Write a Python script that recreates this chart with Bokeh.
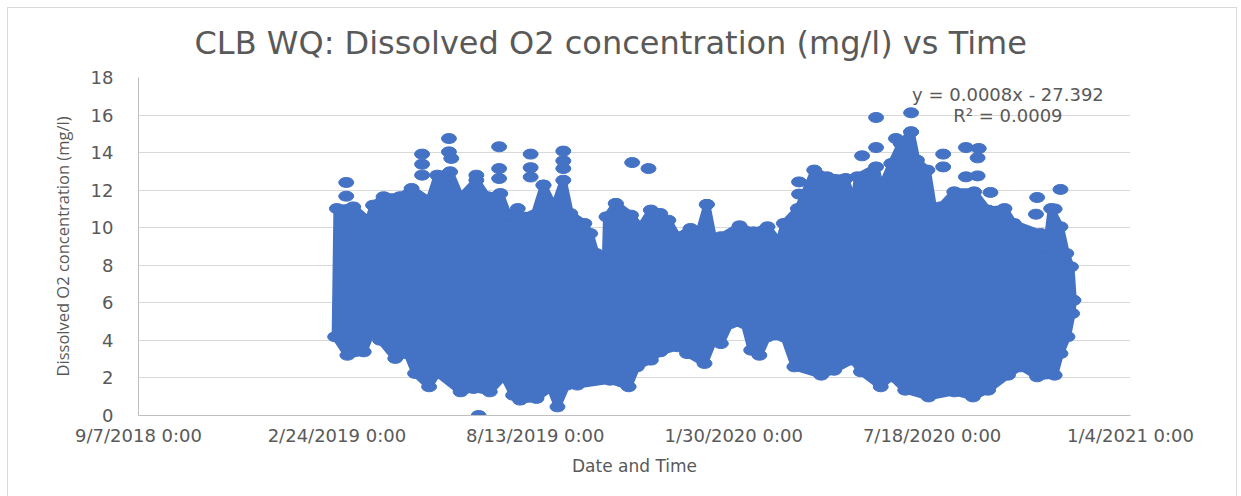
from bokeh.plotting import figure
from bokeh.embed import file_html
from bokeh.resources import INLINE
from bokeh.models import FixedTicker, Range1d
from bokeh.core.properties import value

title_text = "CLB WQ: Dissolved O2 concentration (mg/l) vs Time"
x_title = "Date and Time"
y_title = "Dissolved O2 concentration (mg/l)"
tick_serials = [43350, 43520, 43690, 43860, 44030, 44200]
tick_labels = ["9/7/2018 0:00", "2/24/2019 0:00", "8/13/2019 0:00",
               "1/30/2020 0:00", "7/18/2020 0:00", "1/4/2021 0:00"]
y_ticks = [0, 2, 4, 6, 8, 10, 12, 14, 16, 18]
trend_eq = "y = 0.0008x - 27.392"
trend_r2 = "R\u00b2 = 0.0009"

# upper edge of the point cloud
top_x = [43520, 43534, 43547, 43551, 43560, 43574, 43584, 43599, 43606, 43617, 43626, 43639.5, 43649, 43660,
         43667, 43689, 43697, 43706, 43714, 43720, 43732, 43737, 43742, 43750, 43751, 43759, 43772, 43780,
         43789, 43797, 43804, 43812, 43823, 43830, 43837, 43843, 43849, 43865, 43877, 43889, 43899, 43903,
         43915, 43929, 43940, 43956, 43963, 43966, 43982, 43986, 43995, 44003, 44012, 44017, 44026, 44032,
         44037, 44049, 44066, 44078, 44092, 44100, 44123, 44127, 44132, 44140, 44145, 44149, 44151]
top_y = [11.02, 11.11, 10.4, 11.2, 11.65, 11.65, 12.09, 11.47, 12.8, 12.98, 11.65, 12.53, 11.65, 11.82,
         10.67, 10.67, 12.27, 11.11, 12.53, 10.76, 10.23, 9.69, 8.63, 8.27, 10.58, 11.29, 10.67, 10.05,
         10.94, 10.76, 10.4, 9.52, 9.96, 9.69, 11.24, 9.34, 9.52, 10.1, 9.78, 10.05, 9.25, 10.23,
         11.02, 13.07, 12.71, 12.62, 11.29, 12.71, 13.24, 12.09, 13.42, 14.49, 15.11, 13.6, 13.07, 10.76,
         11.11, 11.91, 11.91, 10.94, 11.02, 10.23, 9.69, 8.45, 11.02, 10.05, 8.63, 7.92, 6.14]

# lower edge of the point cloud
low_x = [43518.5, 43529, 43543, 43550, 43557, 43570, 43580, 43587, 43599, 43606, 43626, 43637, 43651, 43663,
         43671, 43677, 43691, 43703, 43709, 43717, 43726, 43754, 43770, 43777, 43789, 43797, 43812, 43820,
         43835, 43843, 43849, 43857, 43869, 43875, 43882, 43889, 43903, 43912, 43935, 43946, 43962, 43969,
         43986, 43995, 44007, 44027, 44049, 44065, 44078, 44095, 44106, 44120, 44135, 44140, 44146, 44150, 44151]
low_y = [4.19, 3.21, 3.39, 4.46, 4.01, 3.04, 3.3, 2.24, 1.53, 2.24, 1.26, 1.44, 1.26, 2.06,
         1.08, 0.82, 0.91, 1.44, 0.46, 1.62, 1.62, 1.88, 1.53, 2.59, 2.95, 3.39, 3.66, 3.3,
         2.77, 4.01, 3.83, 4.9, 4.9, 3.48, 3.21, 4.19, 4.19, 2.59, 2.15, 2.41, 2.95, 2.33,
         1.53, 2.06, 1.35, 0.99, 1.26, 0.99, 1.35, 2.15, 2.59, 2.06, 2.15, 3.3, 4.19, 5.43, 6.14]

# separate readings standing clear of the cloud
out_x = [43528, 43528, 43616, 43616, 43618, 43593, 43593, 43593, 43659, 43659, 43659, 43686, 43686, 43686,
         43714, 43714, 43714, 43773, 43787, 43675, 43641.5, 43759, 43837, 43697, 43639.5,
         43982, 44012, 44012, 43999, 43982, 43970, 44039.5, 44039.5, 44059, 44070, 44069, 44059, 44069,
         44140, 44120, 43916, 43916, 44119, 44135, 44080]
out_y = [12.41, 11.68, 14.75, 14.04, 13.69, 13.92, 13.38, 12.8, 14.31, 13.15, 12.62, 13.92, 13.2, 12.7,
         14.08, 13.56, 13.15, 13.47, 13.15, 11.02, 0.0, 11.29, 11.24, 12.27, 12.8,
         15.87, 16.12, 15.1, 14.75, 14.27, 13.83, 13.92, 13.24, 14.27, 14.22, 13.72, 12.71, 12.76,
         12.04, 11.61, 12.44, 11.79, 10.72, 11.0, 11.88]

BLUE = "#4472c4"
GREY = "#595959"
FONT = "DejaVu Sans"

p = figure(width=1228, height=488, output_backend="svg", toolbar_location=None,
           x_range=Range1d(43350, 44200), y_range=Range1d(0, 18),
           min_border_left=130, min_border_right=106, min_border_top=69, min_border_bottom=81,
           frame_width=992, frame_height=338, outline_line_color=None,
           x_axis_label=x_title, y_axis_label=y_title)
p.styles = {"border-left": "1px solid #d9d9d9", "border-right": "1px solid #d9d9d9",
            "border-top": "1px solid #d9d9d9", "box-sizing": "border-box", "margin": "7px 0 0 7px"}

p.title.text = title_text
p.title.text_font = FONT
p.title.text_font_size = "32px"
p.title.text_font_style = "normal"
p.title.text_color = GREY
p.title.align = "left"
p.title.offset = 56
p.title.standoff = 28
p.title.vertical_align = "top"

p.xaxis.ticker = FixedTicker(ticks=tick_serials)
p.xaxis.major_label_overrides = dict(zip(tick_serials, tick_labels))
p.yaxis.ticker = FixedTicker(ticks=y_ticks)
for ax in (p.xaxis[0], p.yaxis[0]):
    ax.axis_line_color = "#bfbfbf"
    ax.major_tick_line_color = None
    ax.minor_tick_line_color = None
    ax.major_label_text_font = FONT
    ax.major_label_text_font_size = "18px"
    ax.major_label_text_color = GREY
    ax.axis_label_text_font_style = "normal"
    ax.axis_label_text_color = GREY
p.xaxis.major_label_standoff = 3
p.yaxis.major_label_standoff = 19
p.xaxis.axis_label_text_font = FONT
p.xaxis.axis_label_text_font_size = "17px"
p.xaxis.axis_label_standoff = 7
p.yaxis.axis_label_text_font = "Open Sans"
p.yaxis.axis_label_text_font_size = "16.5px"
p.yaxis.axis_label_standoff = 14

p.xgrid.visible = False
p.ygrid.ticker = FixedTicker(ticks=y_ticks)
p.ygrid.grid_line_color = "#d9d9d9"

p.patch(top_x + low_x[::-1], top_y + low_y[::-1], fill_color=BLUE, line_color=BLUE,
        line_width=7, line_join="round")
for xs, ys in ((top_x, top_y), (low_x, low_y), (out_x, out_y)):
    p.ellipse(xs, ys, width=15, height=10, width_units="screen", height_units="screen",
              fill_color=BLUE, line_color=BLUE)

p.text([44095], [17.1], text=[trend_eq], text_align="center", text_baseline="middle",
       text_font=value(FONT), text_font_size="18px", text_color=GREY)
p.text([44095], [15.97], text=[trend_r2], text_align="center", text_baseline="middle",
       text_font=value(FONT), text_font_size="18px", text_color=GREY)

open("out.html", "w").write(file_html(p, INLINE))
